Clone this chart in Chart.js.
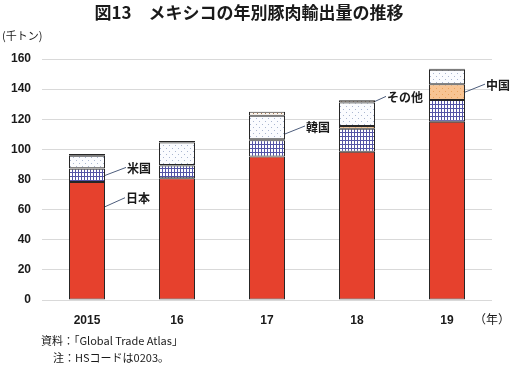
<!DOCTYPE html>
<html>
<head>
<meta charset="utf-8">
<script src="https://cdn.jsdelivr.net/npm/chart.js@4.4.0/dist/chart.umd.min.js"></script>
<style>
  html, body { margin: 0; padding: 0; background: #fff; }
  #chart { display: block; }
</style>
</head>
<body>
<canvas id="chart" width="510" height="366"></canvas>
<script>
// ---- data (千トン) ----
const years = ['2015', '16', '17', '18', '19'];
const japan = [78.3, 80.9, 95.3, 98.5, 118.3];
const usa = [8.8, 8.4, 10.7, 15.2, 14.5];
const china = [0.3, 0.3, 0.8, 1.8, 10.4];
const korea = [8.4, 14.9, 15.6, 15.6, 9.7];
const other = [1.1, 1.0, 2.6, 1.5, 0.6];
const yTicks = [0, 20, 40, 60, 80, 100, 120, 140, 160];

const FONT = '"Noto Sans CJK JP", "Noto Sans", sans-serif';
const NUM_FONT = '"Liberation Sans", Arial, sans-serif';

// small helper to build fill patterns
function makePattern(w, h, bg, draw) {
    const c = document.createElement('canvas');
    c.width = w;
    c.height = h;
    const g = c.getContext('2d');
    g.fillStyle = bg;
    g.fillRect(0, 0, w, h);
    draw(g);
    return g.createPattern(c, 'repeat');
}

const gridPattern = makePattern(3, 4, '#ffffff', g => {
    g.fillStyle = '#5454a6';
    g.fillRect(0, 0, 1, 4);
    g.fillRect(0, 0, 3, 1);
});
const chinaPattern = makePattern(6, 6, '#f8c493', g => {
    g.fillStyle = '#e9a25e';
    g.fillRect(1, 1, 1, 1);
    g.fillRect(4, 4, 1, 1);
});
const koreaPattern = makePattern(6, 6, '#fbfcff', g => {
    g.fillStyle = '#aab6d0';
    g.fillRect(1, 1, 1, 1);
    g.fillRect(4, 4, 1, 1);
});
const otherPattern = makePattern(4, 4, '#fdf6ee', g => {
    g.fillStyle = '#a47a58';
    g.fillRect(1, 1, 1, 1);
    g.fillRect(3, 3, 1, 1);
});

// callout labels with leader lines
const callouts = [
    { text: '日本', ds: 0, i: 0, f: 0.21, dx: 20, dy: -9 },
    { text: '米国', ds: 1, i: 0, f: 0.5, dx: 21, dy: -8 },
    { text: '韓国', ds: 3, i: 2, f: 0.78, dx: 20, dy: -8 },
    { text: 'その他', ds: 4, i: 3, f: 0.5, dx: 11, dy: -5 },
    { text: '中国', ds: 2, i: 4, f: 0.5, dx: 20, dy: -8 }
];

const decorPlugin = {
    id: 'decor',
    afterDatasetsDraw(chart) {
        const ctx = chart.ctx;
        ctx.save();
        callouts.forEach(c => {
            const el = chart.getDatasetMeta(c.ds).data[c.i];
            const top = Math.min(el.y, el.base);
            const bot = Math.max(el.y, el.base);
            const x0 = el.x + el.width / 2;
            const y0 = top + c.f * (bot - top);
            const x1 = x0 + c.dx;
            const y1 = y0 + c.dy;
            ctx.strokeStyle = '#4d5d7c';
            ctx.lineWidth = 1;
            ctx.beginPath();
            ctx.moveTo(x0, y0);
            ctx.lineTo(x1, y1);
            ctx.stroke();
            ctx.fillStyle = '#1a1a1a';
            ctx.font = 'bold 12px ' + FONT;
            ctx.textAlign = 'left';
            ctx.textBaseline = 'middle';
            ctx.fillText(c.text, x1 + 1, y1 + 1);
        });
        ctx.restore();
    },
    afterDraw(chart) {
        const ctx = chart.ctx;
        ctx.save();
        ctx.fillStyle = '#1a1a1a';
        ctx.textBaseline = 'middle';
        ctx.textAlign = 'center';
        ctx.font = 'bold 17px ' + FONT;
        ctx.fillText('図13　メキシコの年別豚肉輸出量の推移', 249, 13);
        ctx.textAlign = 'left';
        ctx.font = '11px ' + FONT;
        ctx.fillText('(千トン)', 2, 36);
        ctx.font = '12px ' + FONT;
        ctx.fillText('（年）', 474, 319);
        ctx.font = '11px ' + FONT;
        ctx.fillText('資料：「Global Trade Atlas」', 41, 341);
        ctx.fillText('注：HSコードは0203。', 53, 358);
        ctx.restore();
    }
};

function seg(label, data, bg) {
    return {
        label,
        data,
        backgroundColor: bg,
        borderColor: '#262626',
        borderWidth: 1,
        borderSkipped: false,
        categoryPercentage: 1.0,
        barPercentage: 0.4
    };
}

new Chart(document.getElementById('chart'), {
    type: 'bar',
    data: {
        labels: years,
        datasets: [
            seg('日本', japan, '#e6412d'),
            seg('米国', usa, gridPattern),
            seg('中国', china, chinaPattern),
            seg('韓国', korea, koreaPattern),
            seg('その他', other, otherPattern)
        ]
    },
    options: {
        responsive: false,
        animation: false,
        devicePixelRatio: 1,
        layout: { padding: { left: 0, right: 18, top: 59, bottom: 0 } },
        plugins: {
            legend: { display: false },
            tooltip: { enabled: false }
        },
        scales: {
            x: {
                stacked: true,
                grid: { display: false },
                border: { display: false },
                ticks: {
                    color: '#1a1a1a',
                    font: { family: NUM_FONT, size: 12, weight: 'bold' },
                    padding: 5,
                    maxRotation: 0
                },
                afterFit(axis) { axis.height = 66; }
            },
            y: {
                stacked: true,
                min: 0,
                max: 160,
                afterBuildTicks(axis) {
                    axis.ticks = yTicks.map(v => ({ value: v }));
                },
                grid: { color: '#d9d9d9', drawTicks: false },
                border: { display: false },
                ticks: {
                    color: '#1a1a1a',
                    font: { family: NUM_FONT, size: 12, weight: 'bold' },
                    padding: 11
                },
                afterFit(axis) { axis.width = 42; }
            }
        }
    },
    plugins: [decorPlugin]
});
</script>
</body>
</html>
